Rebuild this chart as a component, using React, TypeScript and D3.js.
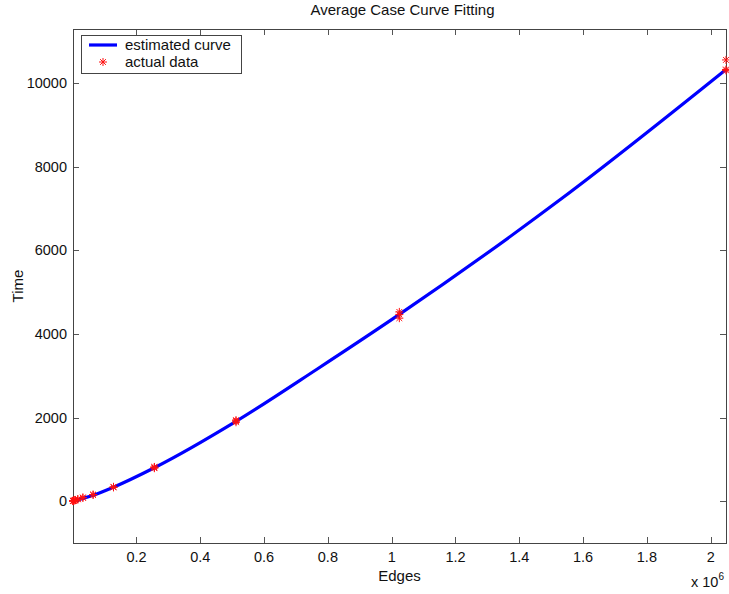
import React, { useRef, useEffect } from 'react';
import * as d3 from 'd3';

// fitted curve (edges, time)
const curveEdges = [1000, 64000, 128000, 256000, 512000, 768000, 1024000, 1536000, 2048000];
const curveTime = [0, 140, 335, 800, 1910, 3170, 4470, 7260, 10330];

// measured points (several runs per size)
const dataEdges = [1000, 1000, 1000, 2000, 2000, 4000, 4000, 8000, 8000, 16000, 16000, 32000, 32000,
    64000, 64000, 128000, 128000, 256000, 256000, 256000, 512000, 512000, 512000,
    1024000, 1024000, 1024000, 2048000, 2048000, 2048000];
const dataTime = [5, 3, 8, 10, 8, 15, 20, 30, 25, 50, 45, 80, 90,
    150, 160, 330, 345, 790, 810, 820, 1890, 1920, 1940,
    4380, 4470, 4530, 10310, 10330, 10560];

const xTicks = [0.2, 0.4, 0.6, 0.8, 1, 1.2, 1.4, 1.6, 1.8, 2];
const yTicks = [0, 2000, 4000, 6000, 8000, 10000];

const App = () => {

    const ref = useRef(null);

    useEffect(() => {

        var W = 729, H = 594;
        var left = 73, right = 726, top = 29, bottom = 543;
        var font = "Arial, 'Liberation Sans', sans-serif";

        var svg = d3.select(ref.current);
        svg.selectAll("*").remove();

        var x = d3.scaleLinear().domain([1000, 2048000]).range([left, right]);
        var y = d3.scaleLinear().domain([-1000, 11300]).range([bottom, top]);

        svg.append("rect").attr("width", W).attr("height", H).attr("fill", "white");

        // ticks (inward, all four sides)
        var tk = svg.append("g").attr("stroke", "#555").attr("stroke-width", 1);
        xTicks.forEach(function(t) {
            var px = Math.round(x(t * 1e6)) + 0.5;
            tk.append("line").attr("x1", px).attr("x2", px).attr("y1", bottom).attr("y2", bottom - 6);
            tk.append("line").attr("x1", px).attr("x2", px).attr("y1", top).attr("y2", top + 6);
        });
        yTicks.forEach(function(t) {
            var py = Math.round(y(t)) + 0.5;
            tk.append("line").attr("x1", left).attr("x2", left + 6).attr("y1", py).attr("y2", py);
            tk.append("line").attr("x1", right).attr("x2", right - 6).attr("y1", py).attr("y2", py);
        });

        svg.append("rect")
            .attr("x", left + 0.5).attr("y", top + 0.5)
            .attr("width", right - left).attr("height", bottom - top)
            .attr("fill", "none").attr("stroke", "#444").attr("stroke-width", 1);

        // tick labels
        var lab = svg.append("g").attr("font-family", font).attr("font-size", 14.5).attr("fill", "#111");
        xTicks.forEach(function(t) {
            lab.append("text").attr("x", x(t * 1e6)).attr("y", bottom + 19)
                .attr("text-anchor", "middle").text(String(t));
        });
        yTicks.forEach(function(t) {
            lab.append("text").attr("x", left - 6).attr("y", y(t) + 5)
                .attr("text-anchor", "end").text(String(t));
        });

        // multiplier
        var mult = lab.append("text").attr("x", 691).attr("y", 587);
        mult.append("tspan").text("x 10");
        mult.append("tspan").attr("dy", -7).attr("font-size", 10).text("6");

        // titles
        svg.append("text").attr("x", (left + right) / 2 + 3).attr("y", 15)
            .attr("text-anchor", "middle").attr("font-family", font).attr("font-size", 15)
            .attr("fill", "#111").text("Average Case Curve Fitting");
        svg.append("text").attr("x", (left + right) / 2).attr("y", 581)
            .attr("text-anchor", "middle").attr("font-family", font).attr("font-size", 15)
            .attr("fill", "#111").text("Edges");
        svg.append("text").attr("transform", "translate(23," + ((top + bottom) / 2) + ") rotate(-90)")
            .attr("text-anchor", "middle").attr("font-family", font).attr("font-size", 15)
            .attr("fill", "#111").text("Time");

        // estimated curve
        var line = d3.line()
            .x(function(d) { return x(d[0]); })
            .y(function(d) { return y(d[1]); })
            .curve(d3.curveMonotoneX);

        svg.append("path")
            .datum(d3.zip(curveEdges, curveTime))
            .attr("d", line)
            .attr("fill", "none")
            .attr("stroke", "#0000ff")
            .attr("stroke-width", 3.2);

        function star(g, cx, cy, r) {
            var d = r * 0.72;
            g.append("path")
                .attr("d", "M" + (cx - r) + "," + cy + "H" + (cx + r) +
                    "M" + cx + "," + (cy - r) + "V" + (cy + r) +
                    "M" + (cx - d) + "," + (cy - d) + "L" + (cx + d) + "," + (cy + d) +
                    "M" + (cx - d) + "," + (cy + d) + "L" + (cx + d) + "," + (cy - d))
                .attr("stroke", "#ff1010").attr("stroke-width", 1).attr("fill", "none");
        }

        var pts = svg.append("g");
        dataEdges.forEach(function(e, i) {
            star(pts, x(e), y(dataTime[i]), 4);
        });

        // legend
        var lg = svg.append("g");
        lg.append("rect").attr("x", 81.5).attr("y", 35.5).attr("width", 160).attr("height", 38)
            .attr("fill", "white").attr("stroke", "#444").attr("stroke-width", 1);
        lg.append("line").attr("x1", 89).attr("x2", 117).attr("y1", 45).attr("y2", 45)
            .attr("stroke", "#0000ff").attr("stroke-width", 3.2);
        star(lg, 103, 62, 4);
        lg.append("text").attr("x", 125).attr("y", 50).attr("font-family", font).attr("font-size", 15)
            .attr("fill", "#111").text("estimated curve");
        lg.append("text").attr("x", 125).attr("y", 67).attr("font-family", font).attr("font-size", 15)
            .attr("fill", "#111").text("actual data");

    }, []);

    return (
        <svg ref={ref} width={729} height={594}
            style={{ position: 'absolute', left: 0, top: 0, display: 'block' }} />
    );
}

export default App
